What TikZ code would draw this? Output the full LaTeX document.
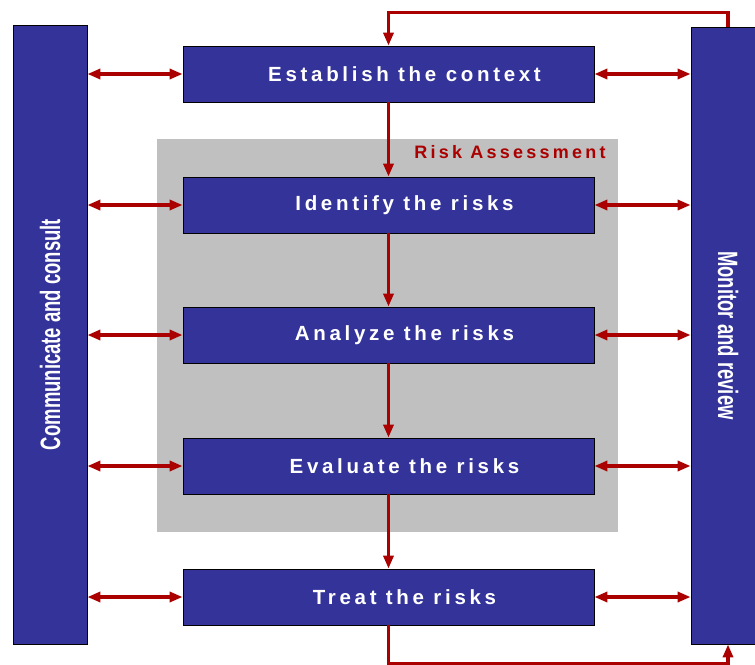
\documentclass[tikz,border=0pt]{standalone}
\usepackage{fontspec}
\setmainfont{Liberation Sans}
\newfontfamily\lsfont[LetterSpace=18]{Liberation Sans Bold}
\usetikzlibrary{arrows.meta}
\definecolor{boxblue}{RGB}{51,51,153}
\definecolor{arrred}{RGB}{170,0,0}
\definecolor{assessgray}{RGB}{192,192,192}
\newcommand{\shiftedtext}[1]{\hspace*{32pt}#1}
\begin{document}
\begin{tikzpicture}[x=1pt,y=-1pt,
  stepbox/.style={draw=black, line width=0.8pt, fill=boxblue, minimum width=411pt,
    minimum height=56pt, inner sep=0pt, text=white,
    font=\lsfont\fontsize{20.5}{23}\selectfont},
  sidebar/.style={draw=black, line width=0.8pt, fill=boxblue, inner sep=0pt, text=white,
    minimum width=74pt, font=\bfseries\fontsize{28}{30}\selectfont},
  tipshape/.tip={Triangle[length=13pt,width=10pt]},
  flow/.style={draw=arrred, line width=3.3pt, -tipshape},
  dflow/.style={draw=arrred, line width=3.3pt, tipshape-tipshape}]
\useasboundingbox (0,0) rectangle (755,664);
% risk assessment area
\node[fill=assessgray, minimum width=461pt, minimum height=393pt, inner sep=0pt] (assess) at (387.5,335.5) {};
\node[text=arrred, font=\lsfont\fontsize{18}{20}\selectfont, inner sep=0pt] (riskhdr) at (510,152) {Risk Assessment};
% side bars
\node[sidebar, minimum height=619pt] (cc) at (50,334.5) {\rotatebox{90}{\scalebox{0.66}[1]{Communicate and consult}}};
\node[sidebar, minimum height=617pt] (mr) at (728,335.5) {\rotatebox{-90}{\scalebox{0.66}[1]{Monitor and review}}};
% steps
\node[stepbox] (est) at (388.5,74) {\shiftedtext{Establish the context}};
\node[stepbox] (ident) at (388.5,205) {\shiftedtext{Identify the risks}};
\node[stepbox] (anal) at (388.5,335) {\shiftedtext{Analyze the risks}};
\node[stepbox] (eval) at (388.5,466) {\shiftedtext{Evaluate the risks}};
\node[stepbox] (treat) at (388.5,597) {\shiftedtext{Treat the risks}};
% main flow
\draw[flow] (est) -- (ident);
\draw[flow] (ident) -- (anal);
\draw[flow] (anal) -- (eval);
\draw[flow] (eval) -- (treat);
% loops
\draw[flow] (mr.north) -- ++(0,-14) -| (est.north);
\draw[flow] (treat.south) -- ++(0,38) -| (mr.south);
% communication arrows
\foreach \s in {est,ident,anal,eval,treat}{
  \draw[dflow] (cc.east |- \s.west) -- (\s.west);
  \draw[dflow] (\s.east) -- (mr.west |- \s.east);
}
\end{tikzpicture}
\end{document}
